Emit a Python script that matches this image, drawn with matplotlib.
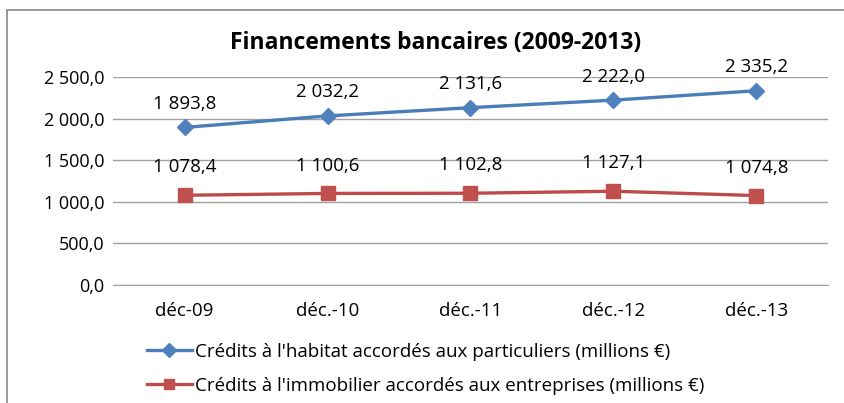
import matplotlib.pyplot as plt
from matplotlib.patches import Rectangle

# Data
categories = ['déc-09', 'déc.-10', 'déc.-11', 'déc.-12', 'déc.-13']
habitat = [1893.8, 2032.2, 2131.6, 2222.0, 2335.2]
immobilier = [1078.4, 1100.6, 1102.8, 1127.1, 1074.8]
labels = ["Crédits à l'habitat accordés aux particuliers (millions €)",
          "Crédits à l'immobilier accordés aux entreprises (millions €)"]

plt.rcParams['font.family'] = ['Open Sans', 'DejaVu Sans']


def fr(v):
    s = f'{v:,.1f}'
    return s.replace(',', ' ').replace('.', ',')


fig = plt.figure(figsize=(8.44, 4.03), dpi=100)
ax = fig.add_axes([113 / 844, 1 - 285 / 403, 715 / 844, 208 / 403])

x = range(len(categories))
ax.plot(x, habitat, color='#4A7EBB', lw=2.4, marker='D', ms=8.5,
        markerfacecolor='#4F81BD', markeredgecolor='#4F81BD', label=labels[0])
ax.plot(x, immobilier, color='#BE4B48', lw=2.4, marker='s', ms=9.5,
        markerfacecolor='#C0504D', markeredgecolor='#C0504D', label=labels[1])

for xi, v in zip(x, habitat):
    ax.annotate(fr(v), (xi, v), xytext=(0, 17), textcoords='offset points',
                ha='center', va='center', fontsize=13.5)
for xi, v in zip(x, immobilier):
    ax.annotate(fr(v), (xi, v), xytext=(0, 20), textcoords='offset points',
                ha='center', va='center', fontsize=13.5)

ax.set_xlim(-0.5, 4.5)
ax.set_ylim(0, 2500)
ax.set_yticks([0, 500, 1000, 1500, 2000, 2500])
ax.set_yticklabels([fr(t) for t in [0, 500, 1000, 1500, 2000, 2500]], fontsize=13)
ax.set_xticks(list(x))
ax.set_xticklabels(categories, fontsize=13.5)
ax.tick_params(length=0, pad=6)
ax.tick_params(axis='x', pad=12)
ax.grid(axis='y', color='#A0A0A0', lw=1)
ax.set_axisbelow(True)
for s in ax.spines.values():
    s.set_visible(False)
ax.spines['bottom'].set_visible(True)
ax.spines['bottom'].set_color('#A0A0A0')

fig.text(436 / 844, 1 - 43 / 403, 'Financements bancaires (2009-2013)', ha='center',
         va='center', fontsize=16.5, fontweight='bold')

fig.legend(loc='upper left', bbox_to_anchor=(130 / 844, 1 - 326 / 403),
           frameon=False, fontsize=13.5, handlelength=2.4, handletextpad=0.15,
           labelspacing=0.85, markerscale=0.8)

fig.patches.append(Rectangle((7 / 844, -0.1), 1.2, 1 - 10 / 403 + 0.1,
                             transform=fig.transFigure, fill=False,
                             edgecolor='#888888', lw=1.2))

fig.savefig('out.png', dpi=100)
